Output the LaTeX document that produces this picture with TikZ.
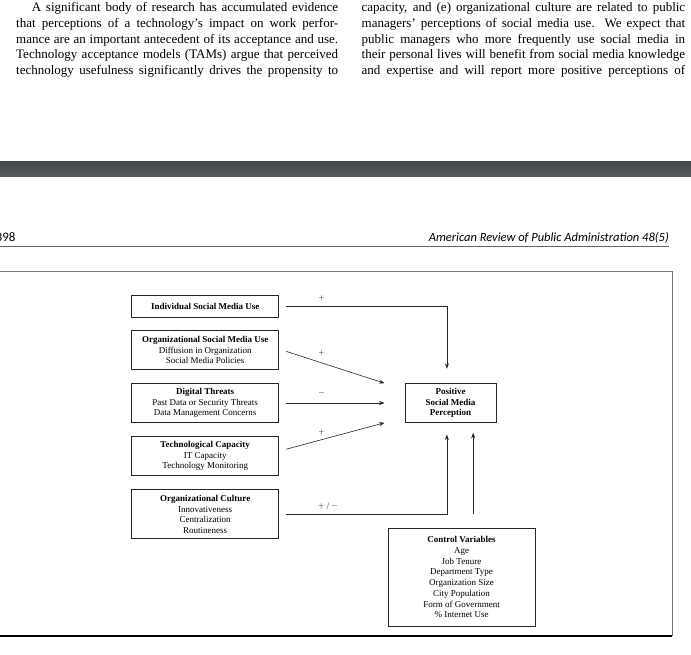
\documentclass[tikz,border=0pt]{standalone}
\usepackage{fontspec}
\usepackage{graphicx}
\setmainfont{Liberation Serif}
\newfontfamily\headfont{Carlito}
\usetikzlibrary{arrows.meta}
\definecolor{bandtop}{HTML}{45484B}
\definecolor{bandmid}{HTML}{2E3134}
\definecolor{bandbot}{HTML}{585B5E}

\begin{document}
\begin{tikzpicture}[x=1pt,y=-1pt,
  body/.style={anchor=base west, inner sep=0pt, font=\fontsize{13}{15.8}\selectfont},
  box/.style={draw=black!85, line width=1pt, inner sep=0pt, align=center,
              font=\fontsize{9}{10.7}\selectfont, text=black},
  conn/.style={draw=black!85, line width=0.6pt, -{Stealth[length=5.5pt,width=4pt]}},
  sign/.style={font=\fontsize{10}{10}\selectfont, text=black!70, inner sep=0pt}]

\useasboundingbox (0,0) rectangle (691,654);
\fill[white] (0,0) rectangle (691,654);

% body text, left column
\node[body] (l1) at (31.7,11.5) {\makebox[306.3pt][s]{A significant body of research has accumulated evidence}};
\node[body] (l2) at (16,27.3) {\makebox[322pt][s]{that perceptions of a technology’s impact on work perfor-}};
\node[body] (l3) at (16,43.1) {\makebox[322pt][s]{mance are an important antecedent of its acceptance and use.}};
\node[body] (l4) at (16,58.9) {\makebox[322pt][s]{Technology acceptance models (TAMs) argue that perceived}};
\node[body] (l5) at (16,74.7) {\makebox[322pt][s]{technology usefulness significantly drives the propensity to}};
% body text, right column
\node[body] (r1) at (361.5,11.5) {\makebox[323.5pt][s]{capacity, and (e) organizational culture are related to public}};
\node[body] (r2) at (361.5,27.3) {\makebox[323.5pt][s]{managers’ perceptions of social media use. We expect that}};
\node[body] (r3) at (361.5,43.1) {\makebox[323.5pt][s]{public managers who more frequently use social media in}};
\node[body] (r4) at (361.5,58.9) {\makebox[323.5pt][s]{their personal lives will benefit from social media knowledge}};
\node[body] (r5) at (361.5,74.7) {\makebox[323.5pt][s]{and expertise and will report more positive perceptions of}};

% dark band
\shade[top color=bandtop, middle color=bandmid, bottom color=bandbot] (0,161.7) rectangle (691,176);

% running head
\node[anchor=base east, inner sep=0pt, font=\headfont\fontsize{13}{13}\selectfont] (pg) at (15.7,241.3) {398};
\node[anchor=base east, inner sep=0pt] (jn) at (669,241.3)
  {\resizebox{240pt}{!}{\headfont\itshape\fontsize{12}{12}\selectfont American Review of Public Administration 48(5)}};
\draw[black!60, line width=0.9pt] (0,246.7) -- (669,246.7);

% figure frame
\draw[black!55, line width=0.8pt] (0,271.7) -- (672,271.7) -- (672,636);
\draw[black, line width=1.2pt] (0,636) -- (672.4,636);

% boxes
\node[box, minimum width=147.5pt, minimum height=22pt] (ind) at (205.2,306)
  {\textbf{Individual Social Media Use}};
\node[box, minimum width=147.5pt, minimum height=38.5pt] (org) at (205.2,350.2)
  {\textbf{Organizational Social Media Use}\\Diffusion in Organization\\Social Media Policies};
\node[box, minimum width=147.5pt, minimum height=38.6pt] (dig) at (205.2,403)
  {\textbf{Digital Threats}\\Past Data or Security Threats\\Data Management Concerns};
\node[box, minimum width=147.5pt, minimum height=38.6pt] (tech) at (205.2,456)
  {\textbf{Technological Capacity}\\IT Capacity\\Technology Monitoring};
\node[box, minimum width=147.5pt, minimum height=49.3pt] (cult) at (205.2,514.3)
  {\textbf{Organizational Culture}\\Innovativeness\\Centralization\\Routineness};
\node[box, minimum width=91pt, minimum height=38.6pt] (pos) at (450.5,403)
  {\textbf{Positive}\\\textbf{Social Media}\\\textbf{Perception}};
\node[box, minimum width=147pt, minimum height=97.7pt] (ctrl) at (461.5,577.2)
  {\textbf{Control Variables}\\Age\\Job Tenure\\Department Type\\Organization Size\\City Population\\Form of Government\\\% Internet Use};

% connectors
\draw[conn, shorten <=7pt, shorten >=14.4pt] (ind.east) -| ([xshift=-3.6pt]pos.north);
\draw[conn, shorten <=7pt] ([yshift=1pt]org.east) -- ([xshift=-20pt]pos.north west);
\draw[conn, shorten <=7pt] (dig.east) -- ([xshift=-20pt]pos.west);
\draw[conn, shorten <=7pt] ([yshift=5pt]tech.east) -- ([xshift=-20pt]pos.south west);
\draw[conn, shorten <=7pt, shorten >=11.7pt] (cult.east) -| ([xshift=-3.6pt]pos.south);
\draw[conn, shorten <=14pt, shorten >=10pt] ([xshift=11.7pt]ctrl.north) -- ([xshift=22.7pt]pos.south);

% signs
\node[sign] (s1) at (321.4,298.3) {+};
\node[sign] (s2) at (321.4,353.3) {+};
\node[sign] (s3) at (321.4,394.7) {−};
\node[sign] (s4) at (321.4,432.7) {+};
\node[sign] (s5) at (328,506.7) {+ / −};
\end{tikzpicture}
\end{document}
